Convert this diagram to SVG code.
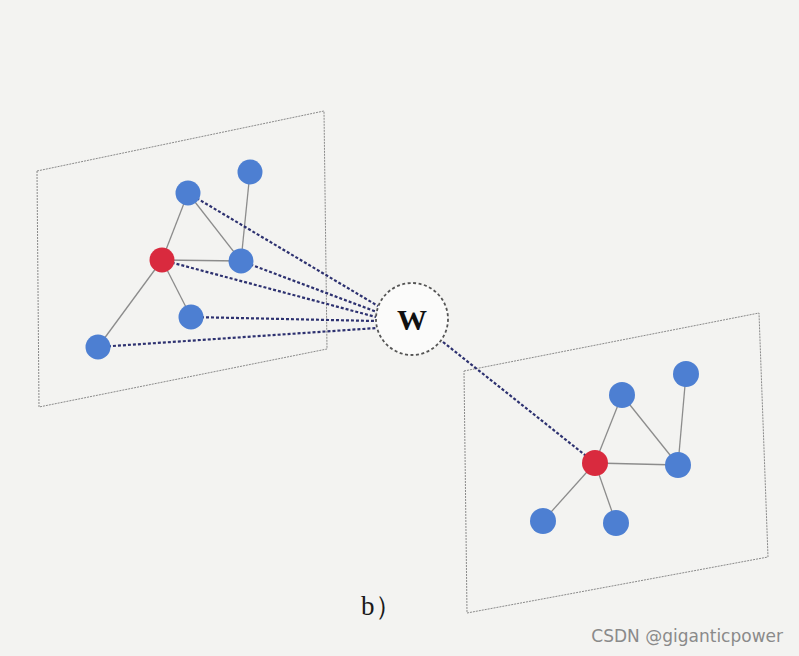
<svg xmlns="http://www.w3.org/2000/svg" width="799" height="656" viewBox="0 0 799 656">
<style>
.plane{fill:none;stroke:#8a8a8a;stroke-width:1;stroke-dasharray:2 1}
.edge{stroke:#8c8c8c;stroke-width:1.3}
.link{stroke:#2d3170;stroke-width:2.2;stroke-dasharray:3 2;fill:none}
.blue{fill:#4d7fd2}
.red{fill:#d92a3e}
.w{fill:#fbfbfa;stroke:#555;stroke-width:1.8;stroke-dasharray:3 2.5}
</style>
<rect width="799" height="656" fill="#f3f3f1"/>
<g id="plane-left"><polygon class="plane" points="37,171 324,111 327,349 39,407"/></g>
<g id="plane-right"><polygon class="plane" points="464,371 759,313 768,557 467,613"/></g>
<g id="connectors">
<line class="edge" x1="162" y1="260" x2="188" y2="193"/>
<line class="edge" x1="162" y1="260" x2="241" y2="261"/>
<line class="edge" x1="188" y1="193" x2="241" y2="261"/>
<line class="edge" x1="250" y1="172" x2="241" y2="261"/>
<line class="edge" x1="162" y1="260" x2="191" y2="317"/>
<line class="edge" x1="162" y1="260" x2="98" y2="347"/>
<line class="edge" x1="595" y1="463" x2="622" y2="395"/>
<line class="edge" x1="595" y1="463" x2="678" y2="465"/>
<line class="edge" x1="622" y1="395" x2="678" y2="465"/>
<line class="edge" x1="686" y1="374" x2="678" y2="465"/>
<line class="edge" x1="595" y1="463" x2="543" y2="521"/>
<line class="edge" x1="595" y1="463" x2="616" y2="523"/>
<line class="link" x1="188" y1="193" x2="378" y2="306"/>
<line class="link" x1="241" y1="261" x2="377" y2="312"/>
<line class="link" x1="162" y1="260" x2="376" y2="317"/>
<line class="link" x1="191" y1="317" x2="376" y2="321"/>
<line class="link" x1="98" y1="347" x2="377" y2="328"/>
<line class="link" x1="443" y1="342" x2="595" y2="463"/>
</g>
<g id="node-w"><circle class="w" cx="412" cy="319" r="36"/><text x="412" y="330" font-family="Liberation Serif, serif" font-size="30" font-weight="bold" text-anchor="middle" fill="#111">W</text></g>
<g id="left-nodes">
<circle id="l1" class="blue" cx="188" cy="193" r="12.5"/>
<circle id="l2" class="blue" cx="250" cy="172" r="12.5"/>
<circle id="l0" class="red" cx="162" cy="260" r="12.5"/>
<circle id="l3" class="blue" cx="241" cy="261" r="12.5"/>
<circle id="l4" class="blue" cx="191" cy="317" r="12.5"/>
<circle id="l5" class="blue" cx="98" cy="347" r="12.5"/>
</g>
<g id="right-nodes">
<circle id="r0" class="red" cx="595" cy="463" r="13"/>
<circle id="r1" class="blue" cx="622" cy="395" r="13"/>
<circle id="r2" class="blue" cx="686" cy="374" r="13"/>
<circle id="r3" class="blue" cx="678" cy="465" r="13"/>
<circle id="r4" class="blue" cx="543" cy="521" r="13"/>
<circle id="r5" class="blue" cx="616" cy="523" r="13"/>
</g>
<text x="361" y="615" font-family="Liberation Serif, serif" font-size="27" fill="#1a1a1a">b）</text>
<text x="783" y="642" font-family="DejaVu Sans, sans-serif" font-size="17" text-anchor="end" fill="#8a8a8a">CSDN @giganticpower</text>
</svg>
